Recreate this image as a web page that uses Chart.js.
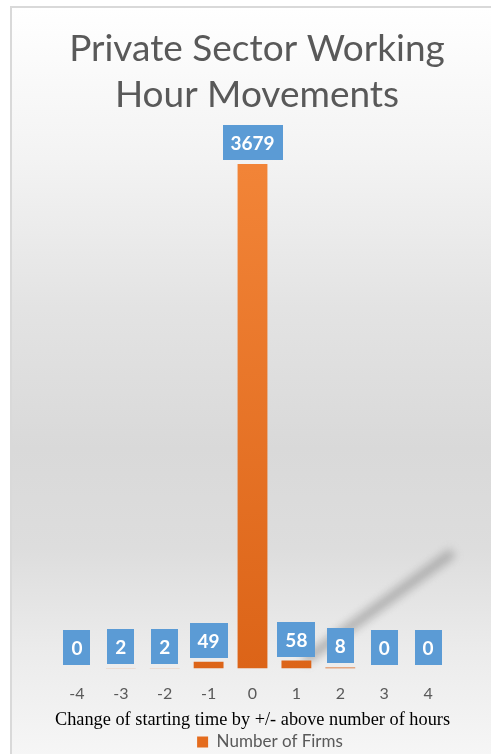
<!DOCTYPE html>
<html><head><meta charset="utf-8">
<script src="https://cdn.jsdelivr.net/npm/chart.js@4.4.1/dist/chart.umd.min.js"></script>
<style>
html,body{margin:0;padding:0;background:#fff;width:491px;height:754px;overflow:hidden;}
#frame{position:absolute;left:10px;top:6px;width:600px;height:800px;border-left:2px solid #d9d9d9;border-top:2px solid #d9d9d9;
background:linear-gradient(to bottom,#ffffff 0px,#f3f3f3 150px,#e3e3e3 300px,#d9d9d9 440px,#dddddd 540px,#ebebeb 640px,#f6f6f6 748px);}
#shadow{position:absolute;left:286px;top:602px;width:185px;height:9px;background:#8f8f8f;transform:rotate(-36deg);filter:blur(5px);opacity:0.7;border-radius:5px;}
#wrap{position:absolute;left:0;top:0;width:491px;height:754px;}
</style></head>
<body>
<div id="frame"></div>
<div id="shadow"></div>
<div id="wrap"><canvas id="c" width="491" height="754"></canvas></div>
<script>
const categories = ['-4','-3','-2','-1','0','1','2','3','4'];
const firms = [0, 2, 2, 49, 3679, 58, 8, 0, 0];
const seriesName = 'Number of Firms';
const chartTitle = ['Private Sector Working', 'Hour Movements'];
const xAxisTitle = 'Change of starting time by +/- above number of hours';
const yMax = 4000;

const labelPlugin = {
  id: 'boxLabels',
  afterDatasetsDraw(chart) {
    const meta = chart.getDatasetMeta(0);
    const ctx = chart.ctx;
    ctx.save();
    ctx.font = 'bold 19px Lato';
    meta.data.forEach((bar, i) => {
      const txt = String(firms[i]);
      const w = Math.round(ctx.measureText(txt).width + 16);
      const h = 35;
      const x = Math.round(bar.x - w / 2);
      const y = Math.round(bar.y - 4 - h);
      ctx.fillStyle = '#5B9BD5';
      ctx.fillRect(x, y, w, h);
      ctx.fillStyle = '#ffffff';
      ctx.textAlign = 'center';
      ctx.textBaseline = 'middle';
      ctx.fillText(txt, bar.x, y + h / 2 + 1);
    });
    ctx.restore();
  }
};

const shiftPlugin = {
  id: 'shiftBoxes',
  afterLayout(chart) {
    if (chart.titleBlock) { chart.titleBlock.left += 4.5; chart.titleBlock.right += 4.5; }
    if (chart.legend) { chart.legend.left += 17.5; chart.legend.right += 17.5; }
  }
};

new Chart(document.getElementById('c'), {
  type: 'bar',
  data: {
    labels: categories,
    datasets: [{
      label: seriesName,
      data: firms,
      barPercentage: 0.68,
      categoryPercentage: 1,
      backgroundColor(context) {
        const area = context.chart.chartArea;
        if (!area) return '#ED7D31';
        const g = context.chart.ctx.createLinearGradient(0, area.top, 0, area.bottom);
        g.addColorStop(0, '#F4873A');
        g.addColorStop(1, '#DC6418');
        return g;
      }
    }]
  },
  options: {
    responsive: false,
    devicePixelRatio: 1,
    animation: false,
    layout: { padding: { left: 55, right: 41, top: 0, bottom: -6.5 } },
    plugins: {
      title: {
        display: true,
        text: chartTitle,
        color: '#595959',
        font: { family: 'Lato', size: 37, weight: 'normal', lineHeight: 1.25 },
        padding: { top: 26, bottom: 1.5 }
      },
      legend: {
        position: 'bottom',
        labels: {
          color: '#595959',
          font: { family: 'Lato', size: 17 },
          boxWidth: 11,
          boxHeight: 11,
          padding: 2,
          generateLabels() {
            return [{ text: seriesName, fillStyle: '#E46C1E', strokeStyle: '#E46C1E', lineWidth: 0, fontColor: '#595959' }];
          }
        }
      },
      tooltip: { enabled: false }
    },
    scales: {
      x: {
        grid: { display: false },
        border: { display: false },
        ticks: { color: '#595959', font: { family: 'Lato', size: 16 }, padding: 8 },
        title: {
          display: true,
          text: xAxisTitle,
          color: '#000000',
          font: { family: 'Liberation Serif', size: 19 },
          padding: { top: -3, bottom: 0 }
        }
      },
      y: { display: false, min: 0, max: yMax }
    }
  },
  plugins: [labelPlugin, shiftPlugin]
});
</script>
</body></html>
